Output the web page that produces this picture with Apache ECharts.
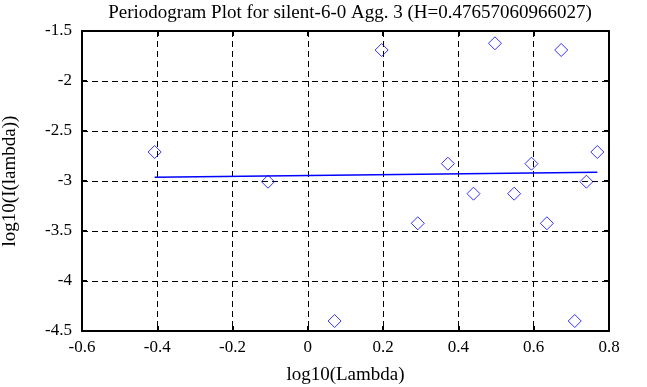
<!DOCTYPE html>
<html>
<head>
<meta charset="utf-8">
<script src="https://cdn.jsdelivr.net/npm/echarts@6/dist/echarts.min.js"></script>
<style>html,body{margin:0;padding:0;background:#fff}#c{width:647px;height:387px}</style>
</head>
<body>
<div id="c"></div>
<script>
var logLambda = [-0.407, -0.106, 0.071, 0.196, 0.292, 0.372, 0.440, 0.497, 0.548, 0.594, 0.635, 0.673, 0.709, 0.740, 0.769];
var logI = [-2.71, -3.007, -4.40, -1.69, -3.423, -2.827, -3.127, -1.623, -3.127, -2.827, -3.423, -1.69, -4.40, -3.007, -2.71];
var fitX = [-0.407, 0.769];
var fitY = [-2.963, -2.913];
var xTicks = [-0.6, -0.4, -0.2, 0, 0.2, 0.4, 0.6, 0.8];
var yTicks = [-4.5, -4, -3.5, -3, -2.5, -2, -1.5];

var font = 'Liberation Serif';
var chart = echarts.init(document.getElementById('c'), null, {renderer: 'canvas'});
var pts = logLambda.map(function (x, i) { return [x, logI[i]]; });
var fit = fitX.map(function (x, i) { return [x, fitY[i]]; });
var gridLine = {show: true, lineStyle: {color: '#000', type: [6, 4], width: 1}};
var fmt = function (v) { return String(Math.round(v * 10) / 10); };
chart.setOption({
  animation: false,
  title: {
    text: 'Periodogram Plot for silent-6-0 Agg. 3 (H=0.47657060966027)',
    left: 345, textAlign: 'center', top: -1,
    textStyle: {fontFamily: font, fontSize: 19, fontWeight: 'normal', color: '#000'}
  },
  grid: {left: 82, right: 38, top: 31, bottom: 56, containLabel: false, outerBoundsMode: 'none'},
  xAxis: [{
    type: 'value', min: xTicks[0], max: xTicks[xTicks.length - 1], interval: 0.2,
    name: 'log10(Lambda)', nameLocation: 'middle', nameGap: 35,
    nameTextStyle: {fontFamily: font, fontSize: 19, color: '#000'},
    axisLine: {show: true, onZero: false, lineStyle: {color: '#000', width: 2}},
    axisTick: {show: true, inside: true, length: 5, lineStyle: {color: '#000', width: 2}},
    axisLabel: {fontFamily: font, fontSize: 17, color: '#000', margin: 8, formatter: fmt},
    splitLine: gridLine
  }, {
    type: 'value', position: 'top', min: xTicks[0], max: xTicks[xTicks.length - 1], interval: 0.2,
    axisLine: {show: true, onZero: false, lineStyle: {color: '#000', width: 2}},
    axisTick: {show: true, inside: true, length: 5, lineStyle: {color: '#000', width: 2}},
    axisLabel: {show: false}, splitLine: {show: false}
  }],
  yAxis: [{
    type: 'value', min: yTicks[0], max: yTicks[yTicks.length - 1], interval: 0.5,
    name: 'log10(I(lambda))', nameLocation: 'middle', nameGap: 62, nameRotate: 90,
    nameTextStyle: {fontFamily: font, fontSize: 19, color: '#000'},
    axisLine: {show: true, onZero: false, lineStyle: {color: '#000', width: 2}},
    axisTick: {show: true, inside: true, length: 5, lineStyle: {color: '#000', width: 2}},
    axisLabel: {fontFamily: font, fontSize: 17, color: '#000', margin: 10, formatter: fmt},
    splitLine: gridLine
  }, {
    type: 'value', position: 'right', min: yTicks[0], max: yTicks[yTicks.length - 1], interval: 0.5,
    axisLine: {show: true, onZero: false, lineStyle: {color: '#000', width: 2}},
    axisTick: {show: true, inside: true, length: 5, lineStyle: {color: '#000', width: 2}},
    axisLabel: {show: false}, splitLine: {show: false}
  }],
  series: [{
    type: 'scatter', data: pts, symbol: 'diamond', symbolSize: [13, 13],
    itemStyle: {color: 'rgba(0,0,0,0)', borderColor: '#0000ff', borderWidth: 1}
  }, {
    type: 'line', data: fit, showSymbol: false, symbol: 'none',
    lineStyle: {color: '#0000ff', width: 1.5}
  }]
});
</script>
</body>
</html>
